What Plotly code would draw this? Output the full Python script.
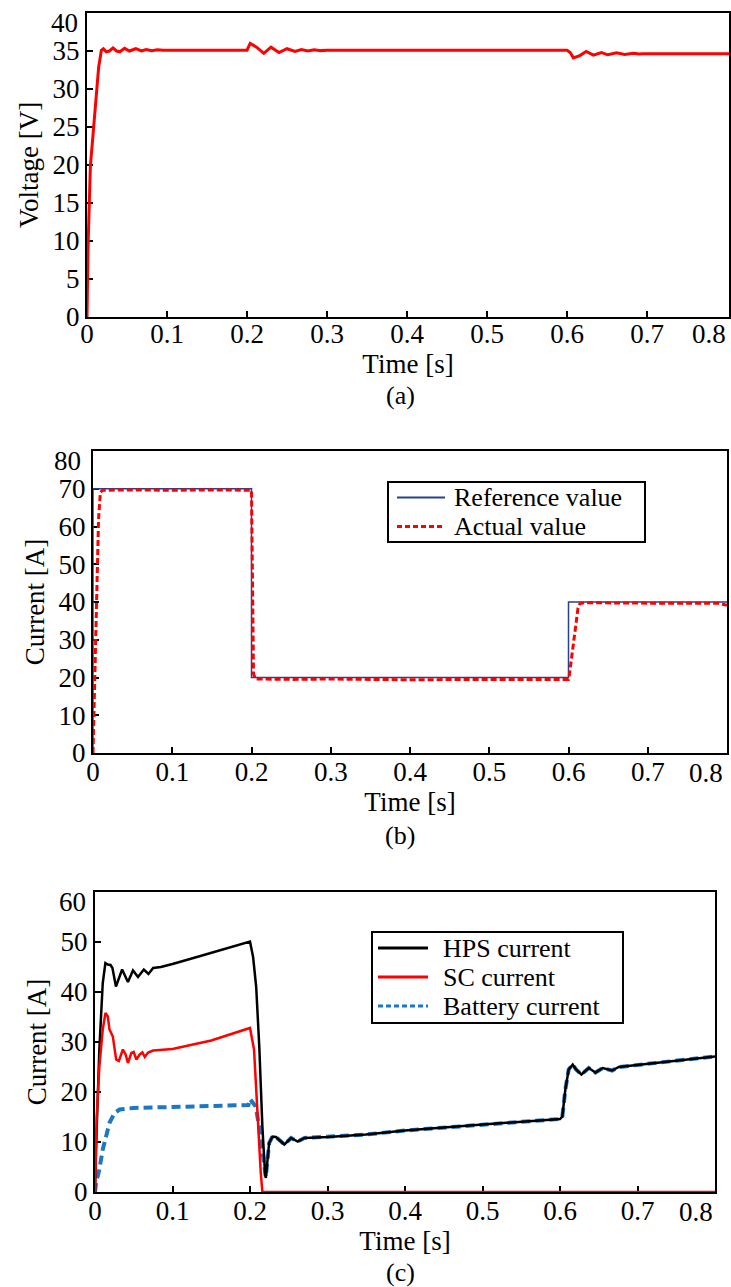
import plotly.graph_objects as go

FONT = "Liberation Serif"
W, H = 731, 1287

# ---- (a) DC bus voltage ----
t_volt = [0, 0.0006, 0.00125, 0.0042, 0.0083, 0.0117, 0.0146, 0.018, 0.0205, 0.024,
          0.028, 0.0325, 0.037, 0.041, 0.047, 0.053, 0.061, 0.068, 0.074, 0.081,
          0.088, 0.095, 0.105, 0.2, 0.204, 0.212, 0.221, 0.23, 0.24, 0.25,
          0.26, 0.268, 0.276, 0.284, 0.292, 0.3, 0.6, 0.604, 0.608, 0.616,
          0.624, 0.633, 0.643, 0.651, 0.662, 0.672, 0.683, 0.69, 0.695, 0.805]
volt = [0, 5, 9, 19.8, 25, 29.9, 32.9, 35.1, 35.3, 34.9,
        35.0, 35.4, 35.0, 34.9, 35.35, 35.0, 35.3, 35.0, 35.2, 35.05,
        35.15, 35.1, 35.1, 35.1, 36.0, 35.5, 34.7, 35.5, 34.8, 35.3,
        34.95, 35.2, 35.0, 35.15, 35.05, 35.1, 35.1, 34.8, 34.1, 34.4,
        34.95, 34.45, 34.8, 34.5, 34.75, 34.55, 34.7, 34.6, 34.65, 34.65]

# ---- (b) current tracking ----
t_ref = [0, 0, 0.2, 0.2, 0.6, 0.6, 0.8]
i_ref = [0, 70, 70, 20, 20, 40, 40]
t_act = [0, 0.001, 0.003, 0.005, 0.007, 0.0093, 0.012, 0.05, 0.1, 0.15,
         0.2, 0.2005, 0.2015, 0.2025, 0.205, 0.25, 0.3, 0.4, 0.5, 0.6,
         0.601, 0.605, 0.609, 0.612, 0.6145, 0.62, 0.7, 0.79, 0.8]
i_act = [0, 10, 26, 48, 62, 69, 69.6, 69.7, 69.6, 69.7,
         69.6, 60, 35, 21, 19.6, 19.5, 19.6, 19.4, 19.5, 19.5,
         20.5, 26.5, 33.5, 38.4, 39.6, 39.8, 39.7, 39.7, 39.1]

# ---- (c) source currents ----
t_hps = [0, 0.0013, 0.0056, 0.0100, 0.0134, 0.0165, 0.020, 0.0225, 0.027, 0.031,
         0.035, 0.0425, 0.049, 0.0555, 0.063, 0.069, 0.075, 0.085, 0.1, 0.136,
         0.179, 0.2, 0.204, 0.208, 0.212, 0.216, 0.2195, 0.2204, 0.2247, 0.229,
         0.2334, 0.2443, 0.253, 0.2616, 0.2703, 0.3006, 0.3497, 0.4, 0.5, 0.6,
         0.603, 0.6069, 0.6112, 0.6164, 0.6207, 0.6276, 0.6371, 0.6457, 0.6552, 0.6672,
         0.6759, 0.8]
i_hps = [0, 8.5, 28.5, 41.8, 45.8, 45.5, 45.4, 44.8, 41.1, 43.0,
         44.5, 42.0, 44.3, 43.0, 44.5, 43.6, 44.8, 45.0, 45.6, 47.2,
         49.1, 50.1, 47.0, 41.0, 29.0, 13.0, 3.5, 2.8, 9.8, 11.1,
         11.0, 9.5, 10.8, 10.1, 10.8, 11.0, 11.5, 12.3, 13.5, 14.6,
         15.1, 20.5, 24.5, 25.5, 24.5, 23.5, 24.8, 23.9, 24.8, 24.3,
         25.0, 27.1]

t_sc = [0, 0.0022, 0.0056, 0.0100, 0.0135, 0.0165, 0.0187, 0.0230, 0.0273, 0.0308,
        0.0360, 0.0395, 0.0425, 0.0469, 0.0499, 0.0534, 0.0577, 0.0612, 0.0642, 0.0685,
        0.075, 0.1, 0.15, 0.2, 0.2052, 0.2095, 0.2139, 0.216, 0.8]
i_sc = [0, 15, 25, 32.5, 35.8, 35.1, 32.5, 31.1, 26.5, 26.2,
        28.5, 27.5, 25.8, 27.8, 28.0, 26.5, 27.5, 27.9, 27.0, 27.9,
        28.3, 28.6, 30.3, 32.8, 28.5, 15, 3.8, 0, 0]

t_bat = [0, 0.0013, 0.0056, 0.0100, 0.0143, 0.0186, 0.0252, 0.0317, 0.049, 0.1,
         0.15, 0.198, 0.2, 0.203, 0.2074, 0.2117, 0.216, 0.2195, 0.2204, 0.2247,
         0.229, 0.2334, 0.2443, 0.253, 0.2616, 0.2703, 0.3006, 0.3497, 0.4, 0.5,
         0.6, 0.603, 0.6069, 0.6112, 0.6164, 0.6207, 0.6276, 0.6371, 0.6457, 0.6552,
         0.6672, 0.6759, 0.8]
i_bat = [0, 1.8, 4.5, 8.5, 11.1, 13.8, 15.8, 16.5, 16.8, 17.0,
         17.2, 17.4, 18.6, 18.0, 17.1, 13.1, 8.5, 4.5, 3.0, 9.8,
         11.1, 11.0, 9.5, 10.8, 10.1, 10.8, 11.0, 11.5, 12.3, 13.5,
         14.6, 15.1, 20.5, 24.5, 25.5, 24.5, 23.5, 24.8, 23.9, 24.8,
         24.3, 25.0, 27.1]

x_ticks = [0, 0.1, 0.2, 0.3, 0.4, 0.5, 0.6, 0.7]
volt_ticks = [0, 5, 10, 15, 20, 25, 30, 35]
cur_b_ticks = [0, 10, 20, 30, 40, 50, 60, 70]
cur_c_ticks = [0, 10, 20, 30, 40, 50]

RED = "#ff0000"
NAVY = "#26418f"
BLUE = "#1b78c8"
FS = 27

fig = go.Figure()
fig.add_trace(go.Scatter(x=t_volt, y=volt, mode="lines", line=dict(color=RED, width=3),
                         xaxis="x", yaxis="y", showlegend=False))
fig.add_trace(go.Scatter(x=t_ref, y=i_ref, mode="lines", line=dict(color=NAVY, width=1.5),
                         xaxis="x2", yaxis="y2", name="Reference value", showlegend=False))
fig.add_trace(go.Scatter(x=t_act, y=i_act, mode="lines",
                         line=dict(color=RED, width=3, dash="6px,3px"),
                         xaxis="x2", yaxis="y2", name="Actual value", showlegend=False))
fig.add_trace(go.Scatter(x=t_bat, y=i_bat, mode="lines",
                         line=dict(color=BLUE, width=4, dash="9px,5px"),
                         xaxis="x3", yaxis="y3", name="Battery current", showlegend=False))
fig.add_trace(go.Scatter(x=t_hps, y=i_hps, mode="lines", line=dict(color="black", width=2.5),
                         xaxis="x3", yaxis="y3", name="HPS current", showlegend=False))
fig.add_trace(go.Scatter(x=t_sc, y=i_sc, mode="lines", line=dict(color=RED, width=2.5),
                         xaxis="x3", yaxis="y3", name="SC current", showlegend=False))


def px_x(p):
    return p / W


def px_y(p):
    return 1 - p / H


def tfont(size=FS):
    return dict(family=FONT, size=size, color="black")


def xaxis(domain, rng, anchor, standoff):
    return dict(domain=domain, range=rng, anchor=anchor, tickvals=x_ticks,
                ticktext=[str(v) for v in x_ticks],
                showline=True, mirror=True, linecolor="black", linewidth=2,
                ticks="inside", ticklen=6, tickwidth=1.5, tickcolor="black",
                ticklabelstandoff=standoff, layer="below traces",
                showgrid=False, zeroline=False, tickfont=tfont(),
                title=dict(text="Time [s]", font=tfont(), standoff=0),
                automargin=False)


def yaxis(domain, rng, ticks, anchor, title):
    return dict(domain=domain, range=rng, tickvals=ticks, anchor=anchor,
                showline=True, mirror=True, linecolor="black", linewidth=2,
                ticks="inside", ticklen=6, tickwidth=1.5, tickcolor="black",
                layer="below traces",
                showgrid=False, zeroline=False, tickfont=tfont(),
                title=dict(text=title, font=tfont(), standoff=6),
                automargin=False)


fig.update_layout(
    width=W, height=H, margin=dict(l=0, r=0, t=0, b=0),
    paper_bgcolor="white", plot_bgcolor="white",
    font=tfont(),
    xaxis=xaxis([px_x(87), px_x(729)], [0, 0.8025], "y", -8),
    yaxis=yaxis([px_y(317), px_y(13)], [0, 40], volt_ticks, "x", "Voltage [V]"),
    xaxis2=xaxis([px_x(93), px_x(727)], [0, 0.8], "y2", -6),
    yaxis2=yaxis([px_y(753), px_y(451)], [0, 80], cur_b_ticks, "x2", "Current [A]"),
    xaxis3=xaxis([px_x(95), px_x(715)], [0, 0.8], "y3", -6),
    yaxis3=yaxis([px_y(1192), px_y(892)], [0, 60], cur_c_ticks, "x3", "Current [A]"),
)

ann = []
# end-of-axis tick labels kept inside the frame
for txt, xr, yc in [("0.8", 728, 334), ("0.8", 725, 773), ("0.8", 715, 1212)]:
    ann.append(dict(text=txt, x=px_x(xr), y=px_y(yc), xref="paper", yref="paper",
                    xanchor="right", yanchor="middle", showarrow=False, font=tfont()))
for txt, xr, yc in [("40", 80, 23), ("80", 83, 461), ("60", 88, 902)]:
    ann.append(dict(text=txt, x=px_x(xr), y=px_y(yc), xref="paper", yref="paper",
                    xanchor="right", yanchor="middle", showarrow=False, font=tfont()))
# panel captions
for txt, yc in [("(a)", 395), ("(b)", 835), ("(c)", 1272)]:
    ann.append(dict(text=txt, x=px_x(400), y=px_y(yc), xref="paper", yref="paper",
                    xanchor="center", yanchor="middle", showarrow=False, font=tfont(26)))

LEG_FS = 26

shapes = []
# legend of panel (b)
shapes.append(dict(type="rect", xref="paper", yref="paper", x0=px_x(388), x1=px_x(645),
                   y0=px_y(542), y1=px_y(482), line=dict(color="black", width=2),
                   fillcolor="white", layer="above"))
legend_b = [("Reference value", dict(color=NAVY, width=2), 497.5),
            ("Actual value", dict(color=RED, width=3, dash="5px,3px"), 526.5)]
# legend of panel (c)
shapes.append(dict(type="rect", xref="paper", yref="paper", x0=px_x(372), x1=px_x(623),
                   y0=px_y(1023), y1=px_y(932), line=dict(color="black", width=2),
                   fillcolor="white", layer="above"))
legend_c = [("HPS current", dict(color="black", width=3), 948),
            ("SC current", dict(color=RED, width=3), 977),
            ("Battery current", dict(color=BLUE, width=3, dash="5px,3px"), 1006)]

for rows, x_line0, x_line1, x_text in [(legend_b, 397, 445, 452), (legend_c, 378, 428, 441)]:
    for txt, ln, yc in rows:
        shapes.append(dict(type="line", xref="paper", yref="paper",
                           x0=px_x(x_line0), x1=px_x(x_line1),
                           y0=px_y(yc), y1=px_y(yc), line=ln, layer="above"))
        ann.append(dict(text=txt, x=px_x(x_text), y=px_y(yc), xref="paper", yref="paper",
                        xanchor="left", yanchor="middle", showarrow=False,
                        font=tfont(LEG_FS)))

fig.update_layout(annotations=ann, shapes=shapes)
fig.write_html("out.html")
